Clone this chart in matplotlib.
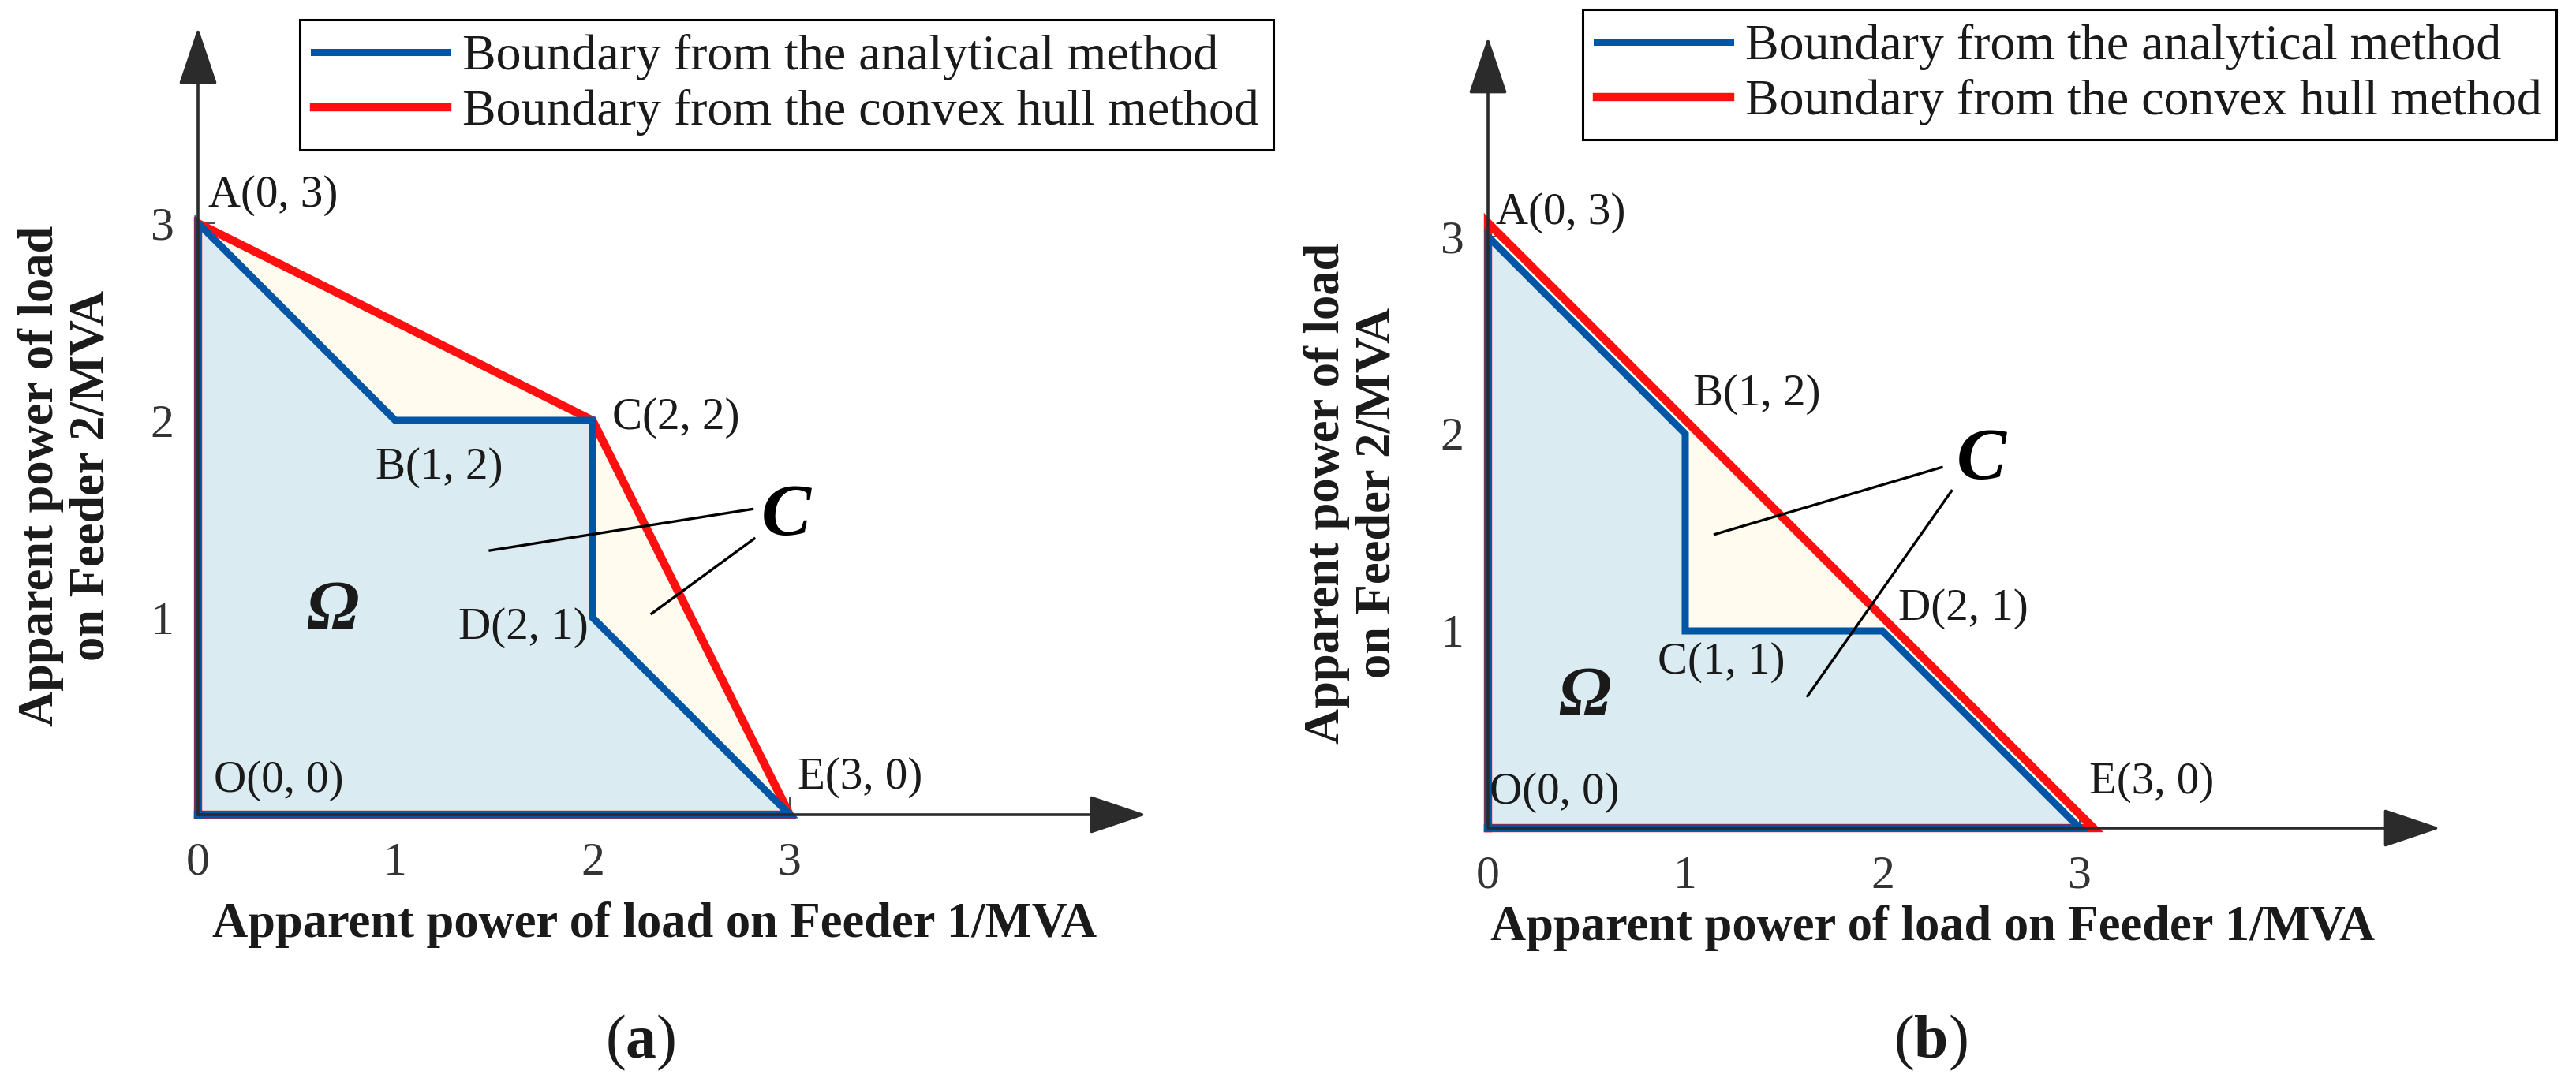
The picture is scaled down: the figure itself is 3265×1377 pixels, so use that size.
import matplotlib.pyplot as plt

plt.rcParams['font.family'] = ['Liberation Serif', 'DejaVu Serif']
plt.rcParams['mathtext.fontset'] = 'custom'
plt.rcParams['mathtext.rm'] = 'Liberation Serif'
plt.rcParams['mathtext.bf'] = 'Liberation Serif:bold'

W, H = 3265, 1377

# ---- data ----
X_TICKS = [0, 1, 2, 3]
X_TICK_LABELS = ['0', '1', '2', '3']
Y_TICKS = [1, 2, 3]
Y_TICK_LABELS = ['1', '2', '3']

# panel (a)
A_ANALYTIC_X = [0, 0, 1, 2, 2, 3, 0]
A_ANALYTIC_Y = [0, 3, 2, 2, 1, 0, 0]
A_HULL_X = [0, 0, 2, 3, 0]
A_HULL_Y = [0, 3, 2, 0, 0]
A_POINTS = ['A(0, 3)', 'B(1, 2)', 'C(2, 2)', 'D(2, 1)', 'O(0, 0)', 'E(3, 0)']

# panel (b)
B_ANALYTIC_X = [0, 0, 1, 1, 2, 3, 0]
B_ANALYTIC_Y = [0, 3, 2, 1, 1, 0, 0]
B_HULL_X = [0, 0, 3.07, 0]
B_HULL_Y = [0, 3.07, 0, 0]
B_POINTS = ['A(0, 3)', 'B(1, 2)', 'C(1, 1)', 'D(2, 1)', 'O(0, 0)', 'E(3, 0)']

LEGEND_LABELS = ['Boundary from the analytical method',
                 'Boundary from the convex hull method']
XLABEL = 'Apparent power of load on Feeder 1/MVA'
YLABEL = 'Apparent power of load\non Feeder 2/MVA'

BLUE = '#0055A5'
RED = '#FF1010'
FILL_OMEGA = '#DAEBF2'
FILL_C = '#FFFBEE'
AXIS_COLOR = '#2B2B2B'
TEXT_COLOR = '#1A1A1A'
FS = 41
FS_LEG = 46
FS_LAB = 45
UNIT = 250.0


def px(x, y):
    return x / W, 1 - y / H


def makeAxes(fig, origin, x_end, y_end):
    ox, oy = origin
    left, bottom = px(ox, oy)
    width = (x_end - ox) / W
    height = (oy - y_end) / H
    ax = fig.add_axes([left, bottom, width, height])
    ax.set_xlim(0, (x_end - ox) / UNIT)
    ax.set_ylim(0, (oy - y_end) / UNIT)
    for s in ax.spines.values():
        s.set_visible(False)
    ax.set_facecolor('none')
    arrow = dict(arrowstyle='-|>,head_length=0.46,head_width=0.155',
                 mutation_scale=100, color=AXIS_COLOR, lw=2.6,
                 shrinkA=0, shrinkB=0)
    ax.annotate('', xy=(1, 0), xytext=(0, 0), xycoords='axes fraction',
                arrowprops=arrow, zorder=6, annotation_clip=False)
    ax.annotate('', xy=(0, 1), xytext=(0, 0), xycoords='axes fraction',
                arrowprops=arrow, zorder=6, annotation_clip=False)
    ax.set_xticks(X_TICKS, X_TICK_LABELS)
    ax.set_yticks(Y_TICKS, Y_TICK_LABELS)
    ax.tick_params(direction='in', length=16, width=1.2, colors=AXIS_COLOR,
                   labelsize=FS + 2, labelcolor='#333333')
    ax.tick_params(axis='x', pad=25)
    ax.tick_params(axis='y', pad=22)
    ax.xaxis.get_major_ticks()[0].tick1line.set_visible(False)
    return ax


def drawRegion(ax, analytic_x, analytic_y, hull_x, hull_y):
    ax.fill(hull_x, hull_y, color=FILL_C, zorder=1, lw=0)
    ax.fill(analytic_x, analytic_y, color=FILL_OMEGA, zorder=2, lw=0)
    l_hull, = ax.plot(hull_x, hull_y, color=RED, lw=7.5, zorder=3,
                      solid_joinstyle='miter', clip_on=False)
    l_ana, = ax.plot(analytic_x, analytic_y, color=BLUE, lw=6.5, zorder=4,
                     solid_joinstyle='miter', clip_on=False)
    return l_ana, l_hull


def putLegend(fig, ax, handles, left, top):
    leg = ax.legend(handles, LEGEND_LABELS, loc='upper left',
                    bbox_to_anchor=px(left, top), bbox_transform=fig.transFigure,
                    borderaxespad=0, borderpad=0.28, handlelength=2.65,
                    handletextpad=0.3, labelspacing=0.18, fontsize=FS_LEG,
                    fancybox=False, framealpha=1, edgecolor='black')
    leg.get_frame().set_linewidth(2.2)
    for t in leg.get_texts():
        t.set_color(TEXT_COLOR)


def labelPoints(ax, names, positions):
    for name, (x, y, ha) in zip(names, positions):
        ax.text(x, y, name, fontsize=FS, ha=ha, va='center', color=TEXT_COLOR, zorder=7)


def axisTitles(fig, ylab_xy, xlab_xy, tag_xy, tag):
    fig.text(*px(*ylab_xy), YLABEL, rotation=90, fontsize=FS_LAB, fontweight='bold',
             ha='center', va='center', multialignment='center', linespacing=1.15,
             color=TEXT_COLOR)
    fig.text(*px(*xlab_xy), XLABEL, fontsize=FS_LAB, fontweight='bold',
             ha='center', va='center', color=TEXT_COLOR)
    fig.text(*px(*tag_xy), r'($\mathbf{%s}$)' % tag, fontsize=56,
             ha='center', va='center', color=TEXT_COLOR)


fig = plt.figure(figsize=(W / 100, H / 100), dpi=100)

# ---------------- panel (a) ----------------
ax_a = makeAxes(fig, (251, 1033), 1453, 35)
handles = drawRegion(ax_a, A_ANALYTIC_X, A_ANALYTIC_Y, A_HULL_X, A_HULL_Y)
putLegend(fig, ax_a, handles, 380, 25)
labelPoints(ax_a, A_POINTS,
            [(0.05, 3.14, 'left'), (0.90, 1.76, 'left'), (2.10, 2.01, 'left'),
             (1.98, 0.95, 'right'), (0.08, 0.17, 'left'), (3.04, 0.19, 'left')])
ax_a.text(0.68, 1.03, 'Ω', fontsize=64, fontweight='bold', style='italic',
          ha='center', va='center', color=TEXT_COLOR, zorder=7)
ax_a.text(2.98, 1.51, 'C', fontsize=68, style='italic', fontweight='bold',
          ha='center', va='center', color='black', zorder=7)
ax_a.plot([1.48, 2.81], [1.34, 1.55], color='black', lw=2.4, zorder=7)
ax_a.plot([2.30, 2.82], [1.02, 1.40], color='black', lw=2.4, zorder=7)
axisTitles(fig, (84, 603), (830, 1172), (812, 1322), 'a')

# ---------------- panel (b) ----------------
ax_b = makeAxes(fig, (1886, 1050), 3093, 47)
handles = drawRegion(ax_b, B_ANALYTIC_X, B_ANALYTIC_Y, B_HULL_X, B_HULL_Y)
putLegend(fig, ax_b, handles, 2006, 12)
labelPoints(ax_b, B_POINTS,
            [(0.04, 3.12, 'left'), (1.04, 2.20, 'left'), (0.86, 0.84, 'left'),
             (2.08, 1.11, 'left'), (0.01, 0.18, 'left'), (3.05, 0.23, 'left')])
ax_b.text(0.49, 0.66, 'Ω', fontsize=64, fontweight='bold', style='italic',
          ha='center', va='center', color=TEXT_COLOR, zorder=7)
ax_b.text(2.50, 1.86, 'C', fontsize=68, style='italic', fontweight='bold',
          ha='center', va='center', color='black', zorder=7)
ax_b.plot([1.15, 2.30], [1.49, 1.83], color='black', lw=2.4, zorder=7)
ax_b.plot([1.62, 2.35], [0.67, 1.71], color='black', lw=2.4, zorder=7)
axisTitles(fig, (1714, 625), (2450, 1177), (2447, 1322), 'b')

fig.savefig('out.png', dpi=100, facecolor='white')
